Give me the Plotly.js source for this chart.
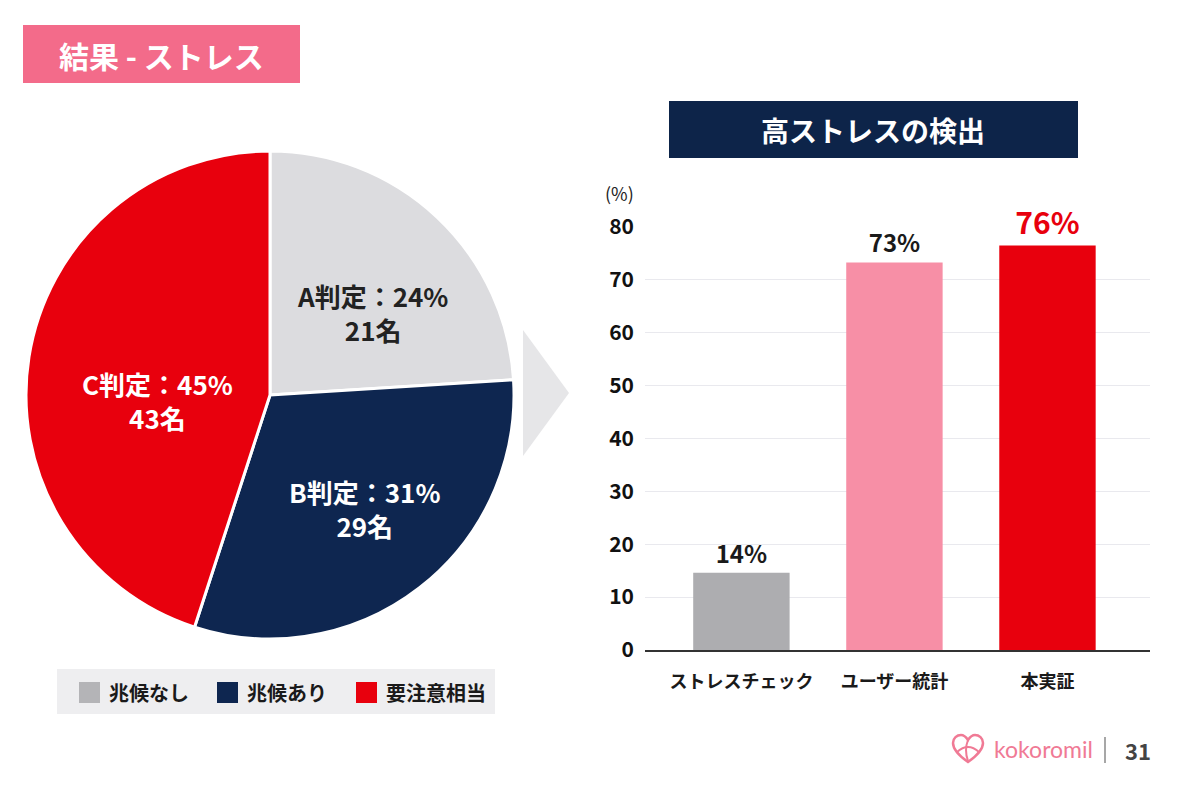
<!DOCTYPE html>
<html><head><meta charset="utf-8">
<script src="https://cdn.plot.ly/plotly-3.0.1.min.js"></script>
<style>html,body{margin:0;padding:0;background:#fff}#chart{width:1200px;height:800px}</style>
</head><body><div id="chart"></div>
<script>
// ---- data ----
const categories = ['兆候なし', '兆候あり', '要注意相当'];
const grades = ['A判定', 'B判定', 'C判定'];
const pieShares = [24, 31, 45];
const pieCounts = [21, 29, 43];
const barCategories = ['ストレスチェック', 'ユーザー統計', '本実証'];
const barValues = [14.6, 73.3, 76.5];
const barLabels = ['14%', '73%', '76%'];
const yTickValues = [0, 10, 20, 30, 40, 50, 60, 70, 80];

// ---- styles ----
const FONT = '"Noto Sans CJK JP", "Noto Sans", sans-serif';
const pieColors = ['#dcdcdf', '#0e2650', '#e8000d'];
const pieTextColors = ['#222222', '#ffffff', '#ffffff'];
const pieTextPos = [[372, 312], [365, 508], [157, 400]];
const legendColors = ['#b4b4b7', '#0e2650', '#e8000d'];
const barColors = ['#adadb0', '#f78fa6', '#e8000d'];
const barTextColors = ['#1a1a1a', '#1a1a1a', '#e8000d'];
const barTextSizes = [24, 24, 30];

const W = 1200, H = 800;
const px = x => x / W;
const py = y => 1 - y / H;
const P = (x, y) => `${px(x)},${py(y)}`;

const pie = {
  type: 'pie',
  labels: categories,
  values: pieShares,
  textinfo: 'none',
  sort: false,
  direction: 'clockwise',
  rotation: 0,
  marker: {colors: pieColors, line: {color: '#ffffff', width: 3}},
  domain: {x: [px(26), px(514)], y: [py(639), py(151)]},
  showlegend: false,
  hoverinfo: 'label+percent'
};

const bar = {
  type: 'bar',
  x: barCategories,
  y: barValues,
  text: barLabels,
  texttemplate: '%{text}',
  textposition: 'outside',
  cliponaxis: false,
  textfont: {family: FONT, size: barTextSizes, color: barTextColors, weight: 700},
  marker: {color: barColors},
  width: 0.63,
  xaxis: 'x', yaxis: 'y',
  showlegend: false
};

const shapes = [
  {type: 'rect', xref: 'paper', yref: 'paper', x0: px(23), x1: px(300), y0: py(83), y1: py(25),
   fillcolor: '#f36b8a', line: {width: 0}, layer: 'below'},
  {type: 'rect', xref: 'paper', yref: 'paper', x0: px(669), x1: px(1078), y0: py(158), y1: py(101),
   fillcolor: '#0d2449', line: {width: 0}, layer: 'below'},
  {type: 'rect', xref: 'paper', yref: 'paper', x0: px(57), x1: px(495), y0: py(714), y1: py(669),
   fillcolor: '#eeeef0', line: {width: 0}, layer: 'below'},
  {type: 'path', xref: 'paper', yref: 'paper',
   path: `M${P(523, 330)} L${P(569, 393)} L${P(523, 456)} Z`,
   fillcolor: '#e6e6e8', line: {width: 0}, layer: 'below'},
  {type: 'line', xref: 'paper', yref: 'paper', x0: px(1105), x1: px(1105), y0: py(763), y1: py(737),
   line: {color: '#8a8a8a', width: 1.5}},
  {type: 'path', xref: 'paper', yref: 'paper',
   path: `M${P(968, 762)} C${P(958, 755)} ${P(953, 749)} ${P(953, 743)} C${P(953, 738)} ${P(957, 735)} ${P(961, 735)} C${P(964, 735)} ${P(966, 737)} ${P(968, 740)} C${P(970, 737)} ${P(972, 735)} ${P(975, 735)} C${P(979, 735)} ${P(983, 738)} ${P(983, 743)} C${P(983, 749)} ${P(978, 755)} ${P(968, 762)} Z`,
   fillcolor: 'rgba(0,0,0,0)', line: {color: '#f07a95', width: 2.5}},
  {type: 'path', xref: 'paper', yref: 'paper',
   path: `M${P(957, 752)} Q${P(968, 742)} ${P(979, 752)}`,
   line: {color: '#f07a95', width: 2}},
  {type: 'path', xref: 'paper', yref: 'paper',
   path: `M${P(968, 740)} Q${P(964, 750)} ${P(968, 761)}`,
   line: {color: '#f07a95', width: 2}}
];

const annotations = [
  {xref: 'paper', yref: 'paper', x: px(161), y: py(55), text: '結果 - ストレス', showarrow: false,
   xanchor: 'center', yanchor: 'middle', font: {family: FONT, size: 30, color: '#ffffff', weight: 700}},
  {xref: 'paper', yref: 'paper', x: px(873), y: py(130), text: '高ストレスの検出', showarrow: false,
   xanchor: 'center', yanchor: 'middle', font: {family: FONT, size: 28, color: '#ffffff', weight: 700}},
  {xref: 'paper', yref: 'paper', x: px(636), y: py(193), text: '(%)', showarrow: false,
   xanchor: 'right', yanchor: 'middle', font: {family: FONT, size: 18, color: '#222222'}},
  {xref: 'paper', yref: 'paper', x: px(992), y: py(749), text: 'kokoromil', showarrow: false,
   xanchor: 'left', yanchor: 'middle', font: {family: 'Lato, "Noto Sans", sans-serif', size: 23, color: '#f07a95'}},
  {xref: 'paper', yref: 'paper', x: px(1138), y: py(750), text: '31', showarrow: false,
   xanchor: 'center', yanchor: 'middle', font: {family: FONT, size: 22, color: '#444444', weight: 700}}
];

// slice labels built from the pie arrays
grades.forEach((g, i) => {
  annotations.push({xref: 'paper', yref: 'paper', x: px(pieTextPos[i][0]), y: py(pieTextPos[i][1]),
    text: `${g}：${pieShares[i]}%<br>${pieCounts[i]}名`, showarrow: false,
    xanchor: 'center', yanchor: 'middle', align: 'center',
    font: {family: FONT, size: 26, color: pieTextColors[i], weight: 700}});
});

// manual legend (swatches + labels) built from the category arrays
const legendX = [79, 217, 356];
categories.forEach((c, i) => {
  shapes.push({type: 'rect', xref: 'paper', yref: 'paper', x0: px(legendX[i]), x1: px(legendX[i] + 21),
    y0: py(703), y1: py(682), fillcolor: legendColors[i], line: {width: 0}});
  annotations.push({xref: 'paper', yref: 'paper', x: px(legendX[i] + 28), y: py(692), text: c,
    showarrow: false, xanchor: 'left', yanchor: 'middle',
    font: {family: FONT, size: 20, color: '#1a1a1a', weight: 700}});
});

const layout = {
  width: W, height: H,
  margin: {l: 0, r: 0, t: 0, b: 0},
  paper_bgcolor: '#ffffff', plot_bgcolor: 'rgba(0,0,0,0)',
  font: {family: FONT},
  showlegend: false,
  xaxis: {
    domain: [px(645), px(1150)],
    range: [-0.63, 2.67],
    showgrid: false, zeroline: false,
    showline: true, linecolor: '#333333', linewidth: 2,
    ticks: '', ticklabelstandoff: 14,
    tickfont: {family: FONT, size: 18, color: '#1a1a1a', weight: 700},
    fixedrange: true
  },
  yaxis: {
    domain: [py(650), py(227)],
    range: [0, 80],
    tickvals: yTickValues,
    showgrid: true, gridcolor: '#e9e9ee', gridwidth: 1,
    zeroline: false, showline: false,
    ticks: '', ticklabelstandoff: 10,
    tickfont: {family: FONT, size: 21, color: '#111111', weight: 700},
    fixedrange: true
  },
  shapes: shapes,
  annotations: annotations
};

Plotly.newPlot('chart', [pie, bar], layout, {displayModeBar: false, staticPlot: true});
</script>
</body></html>
